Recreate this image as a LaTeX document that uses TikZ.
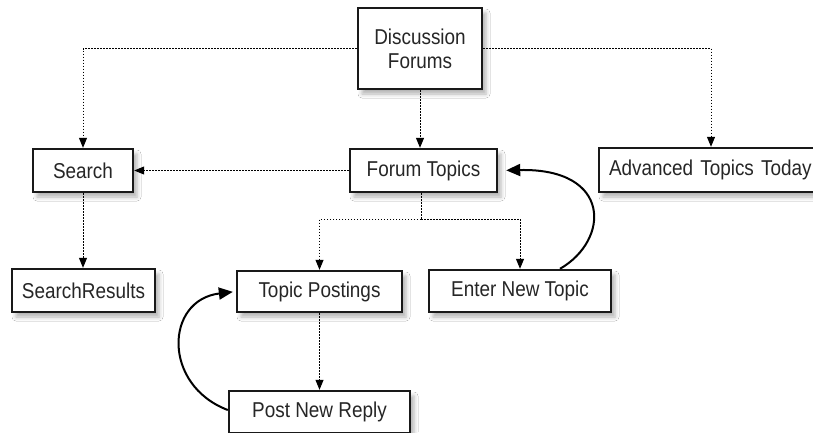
\documentclass[tikz,border=0pt]{standalone}
\usepackage{fontspec}
\setmainfont{Liberation Sans}[FakeStretch=0.88]
\usetikzlibrary{arrows.meta,shadows.blur,calc}
\begin{document}
\begin{tikzpicture}[x=1pt,y=-1pt,
  box/.style={draw=black!90,line width=2.4pt,fill=white,inner sep=0pt,align=center,
    font=\fontsize{21.5}{24}\selectfont,text=black!85,
    blur shadow={shadow xshift=4pt,shadow yshift=-5pt,shadow blur radius=4pt,shadow opacity=30}},
  dotarrow/.style={line width=1pt,dash pattern=on 1.5pt off 1.5pt,
    -{Triangle[width=8pt,length=10pt]}},
  dotline/.style={line width=1pt,dash pattern=on 1.5pt off 1.5pt},
  curvearrow/.style={line width=2pt,-{Triangle[width=12pt,length=14pt]}}]
\useasboundingbox (0,0) rectangle (813,432);
\clip (0,0) rectangle (813,432);
\fill[white] (0,0) rectangle (813,432);
\node[box,minimum width=124pt,minimum height=81pt] (df) at (420,48.5) {Discussion\\Forums};
\node[box,minimum width=100pt,minimum height=43pt] (search) at (83,170.5) {Search};
\node[box,minimum width=143pt,minimum height=43pt] (sr) at (83.5,290.5) {SearchResults};
\node[box,minimum width=147pt,minimum height=43pt] (ft) at (423.5,170.5) {Forum Topics};
\node[box,minimum width=224pt,minimum height=44pt,text width=204pt,align=left] (adv) at (711,170) {Advanced Topics Today};
\node[box,minimum width=165pt,minimum height=41pt] (tp) at (319.5,291.5) {Topic Postings};
\node[box,minimum width=182pt,minimum height=42pt] (ent) at (520,291) {Enter New Topic};
\node[box,minimum width=181pt,minimum height=42pt] (pnr) at (319.5,412) {Post New Reply};
\coordinate (br) at (421,219);
% dotted connectors
\draw[dotarrow] (df.west) -| (search.north);
\draw[dotarrow] (df.east) -| (adv.north);
\draw[dotarrow] (df.south) -- (df.south |- ft.north);
\draw[dotarrow] (ft.west) -- (search.east);
\draw[dotline] (ft.south -| br) -- (br);
\draw[dotarrow] (br) -| (tp.north);
\draw[dotarrow] (br) -| (ent.north);
\draw[dotarrow] (tp.south) -- (pnr.north);
\draw[dotarrow] (search.south) -- (search.south |- sr.north);
% curved arrows
\draw[curvearrow,shorten >=8pt] ([xshift=40pt]ent.north) .. controls (610,240) and (612,168) .. (ft.east);
\draw[curvearrow,shorten >=3pt] ([yshift=2pt]pnr.west) .. controls (162,385) and (165,300) .. (tp.west);
\end{tikzpicture}
\end{document}
